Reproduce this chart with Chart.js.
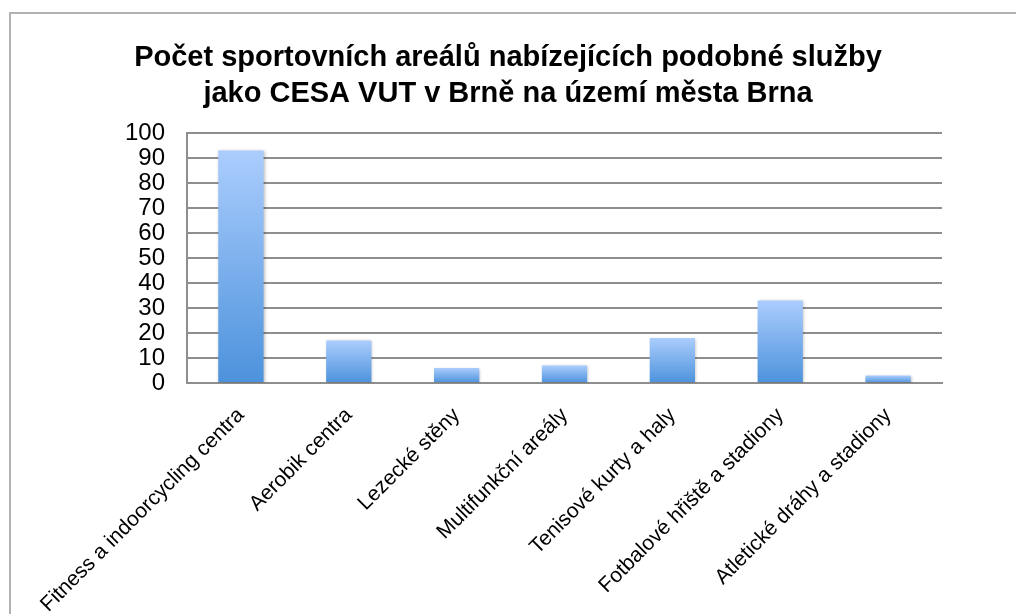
<!DOCTYPE html>
<html>
<head>
<meta charset="utf-8">
<script src="https://cdn.jsdelivr.net/npm/chart.js"></script>
<style>
    html,body{margin:0;padding:0;background:#fff;overflow:hidden;}
    #wrap{position:relative;width:1016px;height:614px;}
    #frame{position:absolute;left:9px;top:12px;width:1100px;height:700px;border-left:2px solid #b2b2b2;border-top:2px solid #b2b2b2;}
    canvas{position:absolute;left:0;top:0;}
</style>
</head>
<body>
<div id="wrap">
    <div id="frame"></div>
    <canvas id="areals" width="1016" height="614"></canvas>
</div>
<script>

// ==========================
// Data
// ==========================

const categories=[
    "Fitness a indoorcycling centra",
    "Aerobik centra",
    "Lezecké stěny",
    "Multifunkční areály",
    "Tenisové kurty a haly",
    "Fotbalové hřiště a stadiony",
    "Atletické dráhy a stadiony"
];

const counts=[93,17,6,7,18,33,3];

const yTicks=[0,10,20,30,40,50,60,70,80,90,100];

const titleLines=[
    "Počet sportovních areálů nabízejících podobné služby",
    "jako CESA VUT v Brně na území města Brna"
];

// ==========================
// Bar gradient (one per bar)
// ==========================

function barFill(ctx){

    const chart=ctx.chart;
    const y=chart.scales.y;

    if(!y || ctx.raw===undefined) return "#7aaef0";

    const top=y.getPixelForValue(ctx.raw);
    const bottom=y.getPixelForValue(0);

    if(!isFinite(top) || bottom-top<1) return "#7aaef0";

    const g=chart.ctx.createLinearGradient(0,top,0,bottom);
    g.addColorStop(0,"#abcdfd");
    g.addColorStop(1,"#4c92dc");
    return g;

}

const barShadow={
    id:"barShadow",
    beforeDatasetsDraw(chart){
        chart.ctx.save();
        chart.ctx.shadowColor="rgba(0,0,0,.25)";
        chart.ctx.shadowBlur=3;
        chart.ctx.shadowOffsetX=1;
        chart.ctx.shadowOffsetY=1;
    },
    afterDatasetsDraw(chart){
        chart.ctx.restore();
    }
};

// ==========================
// Chart
// ==========================

new Chart(document.getElementById("areals"),{

    type:"bar",

    data:{
        labels:categories,
        datasets:[{
            data:counts,
            backgroundColor:barFill,
            borderWidth:0,
            categoryPercentage:1,
            barPercentage:0.42
        }]
    },

    plugins:[barShadow],

    options:{

        responsive:false,
        animation:false,

        layout:{
            padding:{left:0,right:0,top:0,bottom:0}
        },

        plugins:{
            legend:{display:false},
            tooltip:{enabled:false},
            title:{
                display:true,
                text:titleLines,
                color:"#000",
                font:{family:"Liberation Sans, Arial, sans-serif",size:29,weight:"bold",lineHeight:1.24},
                padding:{top:40,bottom:21}
            }
        },

        scales:{

            x:{
                grid:{display:false},
                border:{display:true,color:"#8e8e8e",width:2},
                ticks:{
                    color:"#000",
                    font:{family:"Liberation Sans, Arial, sans-serif",size:21},
                    minRotation:45,
                    maxRotation:45,
                    padding:12,
                    autoSkip:false
                },
                afterFit(s){ s.height=231; }
            },

            y:{
                min:0,
                max:100,
                afterBuildTicks(s){ s.ticks=yTicks.map(v=>({value:v})); },
                grid:{color:"#8e8e8e",lineWidth:2,drawTicks:false},
                border:{display:true,color:"#8e8e8e",width:2},
                ticks:{
                    color:"#000",
                    font:{family:"Liberation Sans, Arial, sans-serif",size:24},
                    padding:22,
                    autoSkip:false
                },
                afterFit(s){ s.width=187; }
            },

            yRight:{
                position:"right",
                display:true,
                grid:{display:false,drawTicks:false},
                border:{display:false},
                ticks:{display:false},
                afterFit(s){ s.width=74; }
            }

        }

    }

});

</script>
</body>
</html>
